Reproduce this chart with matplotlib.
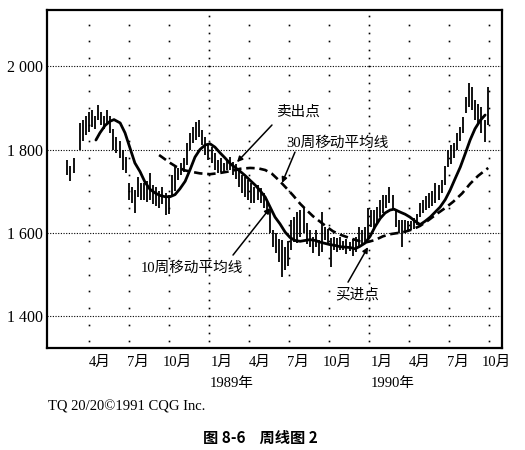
import numpy as np
import matplotlib
matplotlib.use("Agg")
import matplotlib.pyplot as plt

# ---------------- data (x = weeks since 1 Jan 1988) ----------------
bar_start_week = 6
highs = [1775, 1760, 1780, np.nan,
         1864, 1870, 1880, 1890, 1895, 1880, 1907, 1890, 1880, 1895,
         1880, 1850, 1830, 1820, 1800, 1782, 1720, 1710, 1703, 1734,
         1720, 1720, 1725, 1744, 1715, 1710, 1700, 1710, 1696, 1690,
         1740, 1758, 1756, 1768, 1780, 1816, 1840, 1854, 1866, 1871,
         1847, 1830, 1811, 1806, 1792, 1775, 1780, 1768, 1775, 1782,
         1770, 1765, 1751, 1739, 1734, 1727, 1720, 1710, 1715, 1708,
         1696, 1680, 1655, 1607, 1600, 1585, 1583, 1566, 1580, 1631,
         1638, 1650, 1655, 1660, 1625, 1607, 1590, 1607, 1583, 1650,
         1614, 1610, 1588, 1590, 1588, 1590, 1580, 1585, 1578, 1585,
         1590, 1614, 1607, 1614, 1660, 1655, 1655, 1662, 1680, 1691,
         1690, 1710, 1690, 1655, 1631, 1631, 1631, 1628, 1628, 1635,
         1645, 1672, 1680, 1688, 1695, 1700, 1720, 1715, 1727, 1760,
         1800, 1810, 1815, 1840, 1855, 1878, 1926, 1960, 1950, 1920,
         1910, 1902, 1871, 1950]
lows = [1740, 1725, 1745, np.nan,
        1800, 1820, 1835, 1842, 1854, 1850, 1870, 1860, 1850, 1864,
        1840, 1800, 1792, 1780, 1750, 1744, 1680, 1672, 1648, 1686,
        1680, 1680, 1675, 1680, 1670, 1665, 1660, 1670, 1643, 1645,
        1690, 1700, 1727, 1740, 1746, 1763, 1800, 1816, 1823, 1830,
        1811, 1787, 1775, 1768, 1751, 1744, 1746, 1744, 1751, 1751,
        1739, 1730, 1710, 1696, 1686, 1680, 1672, 1672, 1680, 1672,
        1660, 1648, 1600, 1566, 1552, 1530, 1494, 1511, 1520, 1560,
        1578, 1576, 1590, 1600, 1574, 1566, 1552, 1566, 1545, 1554,
        1583, 1570, 1518, 1560, 1555, 1560, 1560, 1550, 1557, 1545,
        1555, 1566, 1570, 1576, 1588, 1614, 1610, 1624, 1638, 1648,
        1660, 1672, 1655, 1614, 1600, 1566, 1600, 1606, 1608, 1610,
        1620, 1638, 1648, 1655, 1660, 1665, 1672, 1680, 1696, 1715,
        1758, 1765, 1780, 1800, 1820, 1840, 1888, 1902, 1895, 1871,
        1864, 1840, 1818, 1860]

ma10_weeks = [15.3, 16.6, 18.3, 19.9, 21.2, 23.2, 24.8, 26.4, 28.0, 29.7,
              31.3, 32.9, 34.6, 36.2, 37.8, 39.5, 41.1, 42.7, 44.4, 46.0,
              47.6, 49.2, 50.9, 52.5, 54.1, 55.8, 57.4, 59.0, 60.7, 62.3,
              63.9, 65.6, 67.2, 68.8, 70.5, 72.1, 73.7, 75.3, 77.0, 78.6,
              80.2, 81.9, 83.5, 85.1, 86.8, 88.4, 90.0, 91.6, 93.3, 94.9,
              96.5, 98.2, 99.8, 101.4, 103.1, 104.7, 106.3, 108.0, 109.6, 111.2,
              112.5, 114.5, 116.1, 117.7, 119.4, 121.0, 122.6, 124.3, 125.9, 127.5,
              129.2, 130.8, 132.4, 134.1, 135.7, 137.3, 138.9, 140.6, 142.2]
ma10_vals = [1823, 1840, 1858, 1868, 1872, 1864, 1840, 1804, 1768, 1747,
             1722, 1705, 1696, 1690, 1687, 1687, 1692, 1706, 1724, 1752,
             1782, 1800, 1811, 1814, 1806, 1792, 1780, 1767, 1757, 1748,
             1738, 1726, 1715, 1702, 1686, 1662, 1638, 1622, 1602, 1589,
             1582, 1580, 1582, 1584, 1582, 1578, 1575, 1572, 1570, 1567,
             1566, 1565, 1562, 1568, 1576, 1592, 1615, 1635, 1648, 1655,
             1657, 1650, 1645, 1638, 1628, 1620, 1628, 1638, 1650, 1662,
             1680, 1703, 1730, 1758, 1790, 1823, 1850, 1870, 1883]

ma30_weeks = [35.9, 37.8, 39.5, 41.7, 44.4, 47.0, 49.2, 52.5, 55.8, 59.0,
              62.3, 65.6, 68.2, 70.5, 72.7, 75.3, 77.6, 79.6, 81.9, 84.1,
              86.1, 88.4, 90.7, 92.6, 94.9, 97.2, 99.2, 101.4, 103.7, 106.3,
              108.9, 111.2, 113.8, 116.1, 118.7, 121.0, 123.6, 126.5, 129.2, 131.8,
              134.7, 137.3, 139.9, 143.2]
ma30_vals = [1787, 1777, 1768, 1758, 1750, 1746, 1743, 1741, 1744, 1748,
             1754, 1756, 1755, 1751, 1742, 1724, 1706, 1690, 1670, 1654,
             1640, 1627, 1614, 1604, 1596, 1590, 1585, 1580, 1578, 1583,
             1592, 1597, 1600, 1603, 1609, 1617, 1630, 1646, 1660, 1675,
             1695, 1718, 1737, 1756]

quarter_weeks = [13.0, 26.0, 39.1, 52.3, 65.1, 78.1, 91.3, 104.4, 117.3, 130.3, 143.4]
year_start_weeks = [52.3, 104.4]
month_label_weeks = [16.6, 29.0, 41.7, 56.4, 68.8, 81.2, 93.9, 108.6, 121.0, 133.4, 145.8]
month_labels = ["4月", "7月", "10月", "1月", "4月", "7月", "10月", "1月", "4月", "7月", "10月"]
year_label_weeks = [59.7, 112.2]
year_labels = ["1989年", "1990年"]
price_ticks = [1400, 1600, 1800, 2000]
price_tick_labels = ["1 400", "1 600", "1 800", "2 000"]

# ---------------- figure ----------------
MIX = ["Liberation Serif", "Noto Sans CJK SC"]
CJK = ["Noto Sans CJK SC", "Liberation Serif"]

fig = plt.figure(figsize=(5.25, 4.5), dpi=100)
ax = fig.add_axes([0.0895, 0.2267, 0.8667, 0.7511])
ax.set_xlim(-0.65, 147.7)
ax.set_ylim(1324, 2135)

# grid: horizontal dotted lines
for p in price_ticks:
    ax.axhline(p, color="black", lw=0.8, linestyle=(0, (1, 1.4)), zorder=1)
# vertical dotted columns
for w in quarter_weeks:
    step = 20 if w in year_start_weeks else 40
    ys = np.arange(1340, 2135, step)
    ax.plot([w] * len(ys), ys, linestyle="none", marker="s", markersize=1.2,
            color="black", markeredgewidth=0, zorder=1)

# weekly bars
weeks = np.arange(bar_start_week, bar_start_week + len(highs))
ax.vlines(weeks, lows, highs, color="black", lw=1.3, zorder=2)

# moving averages
ax.plot(ma10_weeks, ma10_vals, color="black", lw=2.0, solid_capstyle="round", zorder=3)
ax.plot(ma30_weeks, ma30_vals, color="black", lw=1.9, linestyle=(0, (3.2, 1.8)), zorder=3)

# annotations
fs = 10.5
arrow = dict(arrowstyle="-|>", color="black", lw=1.1, mutation_scale=8,
             shrinkA=0, shrinkB=0)
ax.text(81.2, 1890, "卖出点", family=MIX, fontsize=fs, ha="center", va="center")
ax.annotate("", xy=(61.3, 1770), xytext=(72.7, 1859), arrowprops=arrow)
ax.text(93.9, 1816, "30周移动平均线", family=MIX, fontsize=fs, ha="center", va="center")
ax.annotate("", xy=(76.0, 1720), xytext=(80.2, 1794), arrowprops=arrow)
ax.text(46.6, 1516, "10周移动平均线", family=MIX, fontsize=fs, ha="center", va="center")
ax.annotate("", xy=(72.1, 1660), xytext=(60.0, 1547), arrowprops=arrow)
ax.text(100.5, 1451, "买进点", family=MIX, fontsize=fs, ha="center", va="center")
ax.annotate("", xy=(104.0, 1566), xytext=(97.5, 1482), arrowprops=arrow)

# axes / ticks
for s in ax.spines.values():
    s.set_linewidth(1.6)
    s.set_color("black")
ax.set_yticks(price_ticks)
ax.set_yticklabels(price_tick_labels, family=MIX, fontsize=11.5)
ax.set_xticks(month_label_weeks)
ax.set_xticklabels(month_labels, family=MIX, fontsize=10.5)
ax.tick_params(axis="both", length=0)
ax.tick_params(axis="y", pad=3)
ax.tick_params(axis="x", pad=6)

for w, t in zip(year_label_weeks, year_labels):
    ax.text(w, -0.104, t, transform=ax.get_xaxis_transform(), family=MIX,
            fontsize=10.5, ha="center", va="center")

fig.text(48 / 525, 1 - 407 / 450, "TQ 20/20©1991 CQG Inc.", family=MIX,
         fontsize=10.5, ha="left", va="center")
fig.text(260 / 525, 1 - 438 / 450, "图 8-6    周线图 2", family=CJK,
         fontsize=11, fontweight="bold", ha="center", va="center")

fig.savefig("out.png", dpi=100, facecolor="white")
